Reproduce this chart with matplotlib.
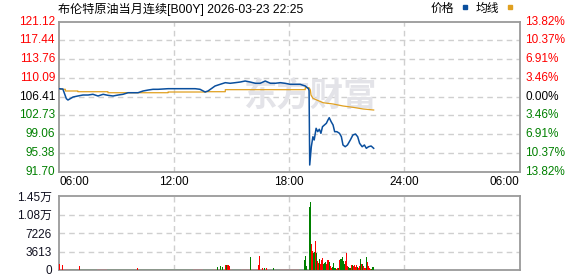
import matplotlib
matplotlib.use("Agg")
import matplotlib.pyplot as plt
from matplotlib.patches import Rectangle
from matplotlib.transforms import ScaledTranslation

plt.rcParams["font.family"] = ["Liberation Sans", "Noto Sans CJK SC", "DejaVu Sans"]

# ==========================
# DATA (minutes after 06:00)
# ==========================

title = "布伦特原油当月连续[B00Y] 2026-03-23 22:25"

price_t = [0, 12, 23, 28, 44, 59, 75, 91, 106, 122, 138, 153, 169, 185, 200,
           216, 232, 247, 263, 279, 294, 310, 341, 373, 398, 426, 441, 457,
           466, 488, 504, 520, 535, 551, 567, 582, 598, 614, 629, 645, 661,
           676, 692, 707, 723, 739, 754, 770, 780, 782, 784, 789, 794, 798,
           804, 809, 814, 819, 824, 830, 836, 841, 845, 851, 857, 862, 869,
           877, 883, 888, 895, 902, 911, 919, 927, 934, 940, 948, 955, 961,
           968, 976, 984]
price_p = [107.98, 107.92, 106.02, 105.76, 106.35, 106.55, 106.74, 106.74,
           106.88, 106.55, 106.88, 106.68, 106.55, 106.74, 106.88, 107.19,
           107.19, 107.19, 107.53, 107.72, 107.86, 107.86, 107.98, 107.98,
           107.98, 107.98, 107.86, 107.33, 107.53, 108.51, 108.84, 109.16,
           109.04, 109.16, 109.29, 109.49, 109.29, 109.04, 109.04, 109.49,
           109.04, 109.04, 109.16, 109.04, 108.84, 108.84, 108.84, 108.51,
           107.98, 107.60, 93.01, 96.60, 98.56, 97.92, 100.21, 99.55, 100.02,
           99.23, 100.53, 100.86, 101.19, 101.84, 102.29, 101.51, 100.86,
           99.55, 99.55, 99.23, 98.56, 96.94, 96.60, 96.94, 97.92, 98.90,
           99.09, 98.56, 97.27, 96.60, 96.94, 96.29, 96.60, 96.74, 96.29]

avg_t = [0, 20, 20, 59, 59, 153, 153, 341, 341, 457, 457, 520, 520, 770, 770,
         782, 786, 788, 794, 806, 826, 857, 888, 919, 951, 984]
avg_p = [107.86, 107.86, 107.53, 107.53, 107.39, 107.39, 107.19, 107.19,
         107.33, 107.33, 107.39, 107.39, 107.79, 107.79, 108.18, 108.18,
         107.72, 106.74, 106.10, 105.76, 105.23, 104.98, 104.59, 104.33,
         104.00, 103.80]

# quiet-hours volume, 30 minute buckets
base_t = [0, 30, 60, 90, 120, 150, 180, 210, 240, 270, 300, 330, 360, 390,
          420, 450, 480, 510, 540, 570, 600, 630, 660, 690, 720, 750]
base_v = [220, 200, 180, 200, 190, 180, 170, 160, 180, 190, 170, 160, 180,
          200, 190, 210, 220, 200, 230, 240, 220, 210, 230, 250, 240, 260]
base_up = "rgggrgggggggggrgrrgrrrgrrg"

vol_t = [0, 3, 10, 63, 244, 495, 504, 510, 520, 523, 526, 529, 532, 599, 625,
         628, 635, 642, 648, 670,
         767, 770, 773, 783, 786, 789, 792, 795, 798, 801, 805, 808, 811, 814,
         817, 820, 823, 826, 830, 833, 836, 839, 842, 845, 848, 851, 855, 858,
         861, 864, 867, 870, 873, 877, 880, 883, 886, 889, 892, 895, 898, 902,
         905, 908, 911, 914, 917, 920, 923, 927, 930, 933, 936, 939, 942, 945,
         949, 952, 955, 958, 961, 964, 967, 971, 974, 977, 980, 983]
vol_v = [1510, 1200, 980, 780, 330, 590, 780, 590, 980, 980, 900, 980, 700,
         2610, 980, 2810, 450, 450, 450, 330,
         1960, 2745, 780, 12350, 13330, 5040, 3720, 3270, 3530, 5690, 3400,
         1760, 1430, 2220, 1110, 1900, 2410, 1110, 1430, 1570, 1110, 1960,
         1960, 1570, 780, 450, 650, 1430, 450, 450, 260, 450, 450, 1900, 2090,
         2220, 2550, 1760, 1110, 1760, 3270, 780, 650, 450, 450, 980, 980,
         780, 980, 650, 980, 650, 450, 780, 2090, 1240, 1110, 780, 450, 450,
         2550, 1570, 780, 450, 260, 260, 590, 590]
vol_up = "rrrrrgggrgrrrgrrrgrg" + \
         "gggggrrggrgrrgrrrgggrrrgrrggggrrgrgggggrrrgggrgrrrrgrrgrgrrrgrrrrgggg"

price_ticks = ["91.70", "95.38", "99.06", "102.73", "106.41",
               "110.09", "113.76", "117.44", "121.12"]
pct_ticks = ["13.82%", "10.37%", "6.91%", "3.46%", "0.00%",
             "3.46%", "6.91%", "10.37%", "13.82%"]
vol_ticks = ["0", "3613", "7226", "1.08万", "1.45万"]
time_labels = ["06:00", "12:00", "18:00", "24:00", "06:00"]

base_price = 106.41
price_step = 3.6775
vol_max = 14452

RED = "#ff0000"
GREEN = "#008000"
BLUE = "#0a4f9e"
ORANGE = "#e0a020"
GRID = "#cfcfcf"
SPINE = "#9a9a9a"


# ==========================
# FIGURE
# ==========================

fig = plt.figure(figsize=(5.78, 2.76), dpi=100)
W, H = 578, 276

ax = fig.add_axes([59 / W, 1 - 171.7 / H, 460.5 / W, 150 / H])
axv = fig.add_axes([59 / W, 1 - 270 / H, 460.5 / W, 73.7 / H])

price_levels = [base_price + price_step * (k - 4) for k in range(9)]
vol_levels = [vol_max * k / 4 for k in range(5)]

for a in (ax, axv):
    a.set_xlim(0, 1440)
    a.set_xticks([])
    a.set_yticks([])
    for s in a.spines.values():
        s.set_color(SPINE)
        s.set_linewidth(1.3)
    for t in (360, 720, 1080):
        a.axvline(t, color=GRID, lw=1.0, ls=(0, (4, 3)), zorder=0)

ax.set_ylim(price_levels[0], price_levels[-1])
axv.set_ylim(0, vol_max)

for lv in price_levels[1:-1]:
    ax.axhline(lv, color=GRID, lw=1.0, ls=(0, (4, 3)), zorder=0)
for lv in vol_levels[1:-1]:
    axv.axhline(lv, color=GRID, lw=1.0, ls=(0, (4, 3)), zorder=0)

# watermark
ax.text(0.545, 0.50, "东方财富", transform=ax.transAxes, fontsize=24,
        fontweight="bold", color="#e3e3e8", ha="center", va="center",
        family=["Noto Sans CJK SC"], zorder=0.5)

ax.plot(avg_t, avg_p, color=ORANGE, lw=0.9, zorder=2)
ax.plot(price_t, price_p, color=BLUE, lw=1.1, zorder=3)

# y labels price
ytr = ax.get_yaxis_transform()
for k, lv in enumerate(price_levels):
    c = RED if k > 4 else (GREEN if k < 4 else "black")
    ax.text(-4 / 460.5, lv, price_ticks[k], transform=ytr, ha="right",
            va="center", fontsize=8.5, color=c)
    ax.text(1 + 6 / 460.5, lv, pct_ticks[k], transform=ytr, ha="left",
            va="center", fontsize=8.5, color=c)

# x labels
xtr = ax.get_xaxis_transform()
for k, lab in enumerate(time_labels):
    ha = "left" if k == 0 else ("right" if k == 4 else "center")
    ax.text(k * 360, -10 / 150, lab, transform=xtr, ha=ha, va="center",
            fontsize=8.5)

# volume
axv.bar(base_t, base_v, width=30, align="edge", linewidth=0,
        color=[RED if c == "r" else GREEN for c in base_up], zorder=2)
axv.bar(vol_t, vol_v, width=3, align="center", linewidth=0,
        color=[RED if c == "r" else GREEN for c in vol_up], zorder=3)

vtr = axv.get_yaxis_transform() + ScaledTranslation(0, -0.015, fig.dpi_scale_trans)
for k, lv in enumerate(vol_levels):
    axv.text(-7 / 460.5, lv, vol_ticks[k], transform=vtr, ha="right",
             va="center", fontsize=8.5, color="#101020")

# title + legend
fig.text(58 / W, 1 - 9 / H, title, ha="left", va="center", fontsize=8.7)
fig.text(431 / W, 1 - 9 / H, "价格", ha="left", va="center", fontsize=8.5)
fig.text(476 / W, 1 - 9 / H, "均线", ha="left", va="center", fontsize=8.5)
fig.patches.append(Rectangle((462.5 / W, 1 - 8.5 / H), 4.5 / W, 3 / H,
                             transform=fig.transFigure, color=BLUE))
fig.patches.append(Rectangle((507.5 / W, 1 - 8.5 / H), 4.5 / W, 3 / H,
                             transform=fig.transFigure, color=ORANGE))

fig.savefig("out.png", dpi=100)
